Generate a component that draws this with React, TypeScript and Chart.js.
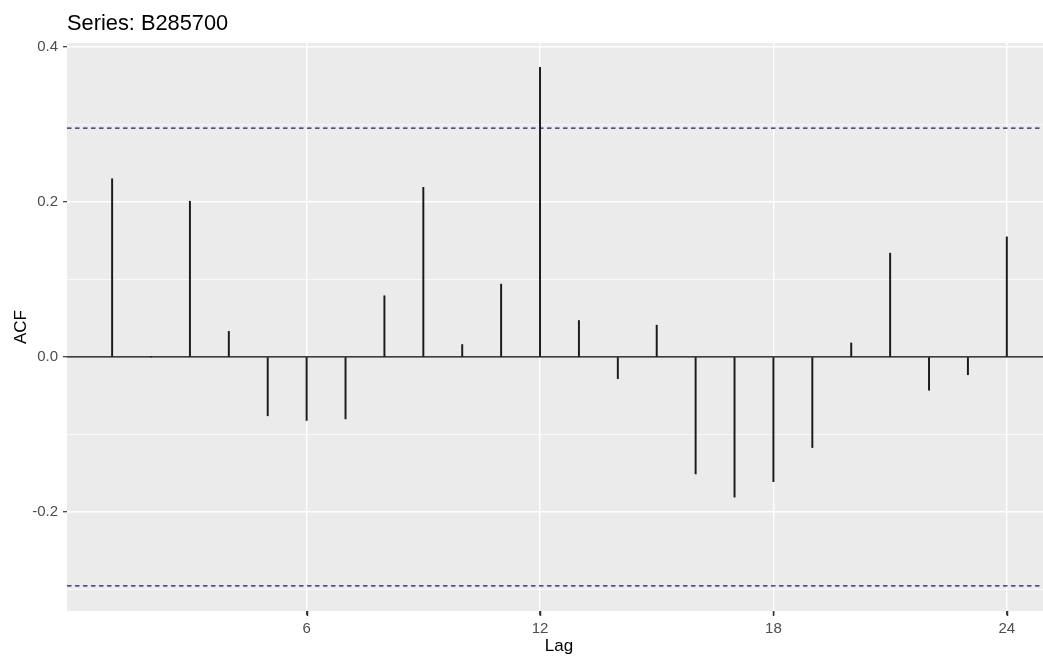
import React, { useEffect, useRef } from 'react';
import { Chart, registerables } from 'chart.js';

Chart.register(...registerables);

// ---- Data ----
const lags = [1, 2, 3, 4, 5, 6, 7, 8, 9, 10, 11, 12, 13, 14, 15, 16, 17, 18, 19, 20, 21, 22, 23, 24];
const acfValues = [
  0.230, 0.0, 0.201, 0.033, -0.076, -0.082, -0.080, 0.079, 0.219, 0.016, 0.094, 0.374,
  0.047, -0.028, 0.041, -0.151, -0.181, -0.161, -0.117, 0.018, 0.134, -0.043, -0.023, 0.155,
];
const ciBound = 0.2955;
const xTickValues = [6, 12, 18, 24];
const yTickValues = [-0.3, -0.2, -0.1, 0, 0.1, 0.2, 0.3, 0.4];
const chartTitle = 'Series: B285700';
const xTitle = 'Lag';
const yTitle = 'ACF';
const xMin = -0.16;
const xMax = 24.93;
const yMin = -0.328;
const yMax = 0.4053;

const FONT = "'Liberation Sans', Arial, sans-serif";
const isMajor = (v: number) => Math.abs(Math.round(v * 10)) % 2 === 0;

export default function App() {
  const ref = useRef<HTMLCanvasElement>(null);

  useEffect(() => {
    document.body.style.margin = '0';
    const panelBg = {
      id: 'panelBg',
      beforeDraw(chart: any) {
        const { ctx, chartArea } = chart;
        ctx.save();
        ctx.fillStyle = '#EBEBEB';
        ctx.fillRect(chartArea.left, chartArea.top, chartArea.right - chartArea.left, chartArea.bottom - chartArea.top);
        ctx.restore();
      },
    };
    const titles = {
      id: 'titles',
      afterDraw(chart: any) {
        const { ctx, chartArea } = chart;
        ctx.save();
        // x-axis tick marks
        const xs = chart.scales.x;
        ctx.strokeStyle = '#333333';
        ctx.lineWidth = 1.5;
        xs.ticks.forEach((t: any) => {
          const px = Math.round(xs.getPixelForValue(t.value)) + 0.5;
          ctx.beginPath();
          ctx.moveTo(px, chartArea.bottom);
          ctx.lineTo(px, chartArea.bottom + 5);
          ctx.stroke();
        });
        ctx.fillStyle = '#000';
        ctx.textBaseline = 'alphabetic';
        ctx.textAlign = 'left';
        ctx.font = `21.8px ${FONT}`;
        ctx.fillText(chartTitle, 67, 30);
        ctx.font = `17px ${FONT}`;
        ctx.textAlign = 'center';
        ctx.fillText(xTitle, 559, 651);
        ctx.translate(26, 327);
        ctx.rotate(-Math.PI / 2);
        ctx.fillText(yTitle, 0, 0);
        ctx.restore();
      },
    };

    const chart = new Chart(ref.current!, {
      type: 'bar',
      data: {
        datasets: [
          {
            type: 'line',
            data: [{ x: xMin, y: ciBound }, { x: xMax, y: ciBound }],
            borderColor: '#1c1c66',
            borderWidth: 1.2,
            borderDash: [4.5, 3.5],
            pointRadius: 0,
            order: 0,
          } as any,
          {
            type: 'line',
            data: [{ x: xMin, y: -ciBound }, { x: xMax, y: -ciBound }],
            borderColor: '#1c1c66',
            borderWidth: 1.2,
            borderDash: [4.5, 3.5],
            pointRadius: 0,
            order: 0,
          } as any,
          {
            type: 'line',
            data: [{ x: xMin, y: 0 }, { x: xMax, y: 0 }],
            borderColor: '#000',
            borderWidth: 1.3,
            pointRadius: 0,
            order: 1,
          } as any,
          {
            type: 'bar',
            data: lags.map((l, i) => ({ x: l, y: acfValues[i] })),
            backgroundColor: '#1a1a1a',
            barThickness: 1.3,
            borderWidth: 0,
            order: 2,
          } as any,
        ],
      },
      options: {
        responsive: false,
        animation: false,
        layout: { padding: { top: 43, right: 0, left: 0, bottom: 0 } },
        plugins: {
          legend: { display: false },
          tooltip: { enabled: false },
          title: { display: false },
        },
        scales: {
          x: {
            type: 'linear',
            min: xMin,
            max: xMax,
            offset: false,
            afterBuildTicks: (s: any) => {
              s.ticks = xTickValues.map((v) => ({ value: v }));
            },
            afterFit: (s: any) => {
              s.height = 46;
            },
            border: { display: false },
            grid: {
              offset: false,
              color: '#ffffff',
              lineWidth: 1.4,
              drawTicks: true,
              tickColor: '#333333',
              tickWidth: 1.2,
              tickLength: 4,
            },
            ticks: {
              autoSkip: false,
              maxRotation: 0,
              padding: 5,
              color: '#4d4d4d',
              font: { family: FONT, size: 15 },
              callback: (v: any) => String(v),
            },
          },
          y: {
            type: 'linear',
            min: yMin,
            max: yMax,
            afterBuildTicks: (s: any) => {
              s.ticks = yTickValues.map((v) => ({ value: v }));
            },
            afterFit: (s: any) => {
              s.width = 67;
            },
            border: { display: false },
            grid: {
              color: '#ffffff',
              lineWidth: (ctx: any) => (ctx.tick && isMajor(ctx.tick.value) ? 1.4 : 0.7),
              tickColor: (ctx: any) => (ctx.tick && isMajor(ctx.tick.value) ? '#333333' : 'rgba(0,0,0,0)'),
              tickWidth: 1.2,
              tickLength: 4,
            },
            ticks: {
              autoSkip: false,
              padding: 5,
              color: '#4d4d4d',
              font: { family: FONT, size: 15 },
              callback: (v: any) => (isMajor(Number(v)) ? Number(v).toFixed(1) : ''),
            },
          },
        },
      } as any,
      plugins: [panelBg, titles],
    });
    return () => chart.destroy();
  }, []);

  return (
    <div style={{ width: 1043, height: 657 }}>
      <canvas ref={ref} width={1043} height={657} style={{ display: 'block' }} />
    </div>
  );
}
